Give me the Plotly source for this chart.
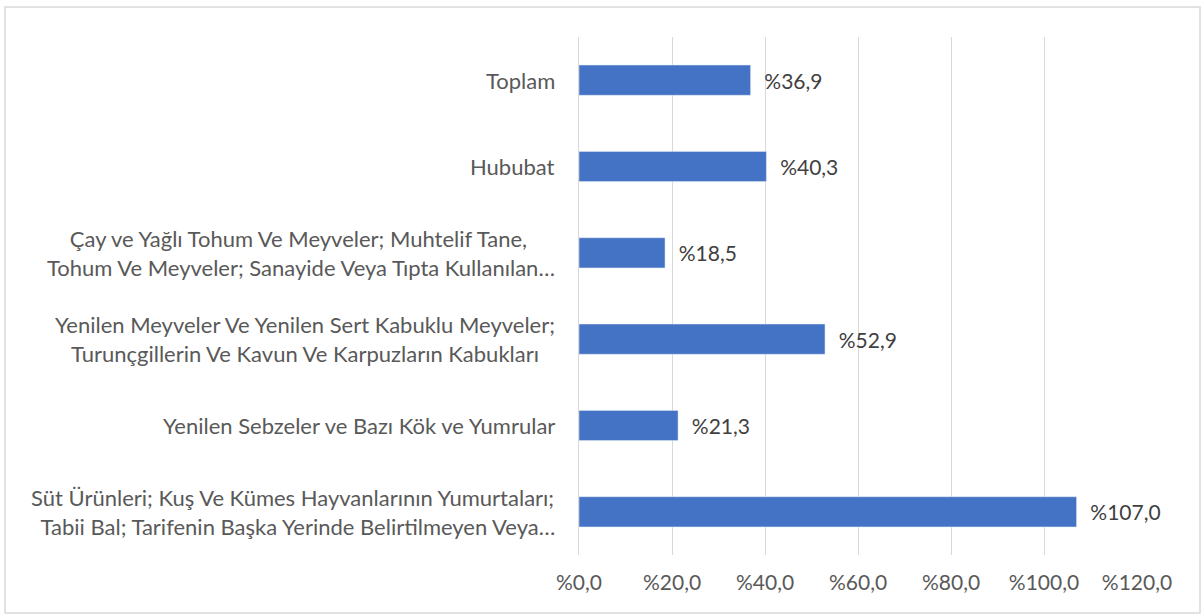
import plotly.graph_objects as go

# categories from top to bottom
categories = [
    "Toplam",
    "Hububat",
    "Çay ve Yağlı Tohum Ve Meyveler; Muhtelif Tane,<br> Tohum Ve Meyveler; Sanayide Veya Tıpta Kullanılan…",
    "Yenilen Meyveler Ve Yenilen Sert Kabuklu Meyveler;<br>Turunçgillerin Ve Kavun Ve Karpuzların Kabukları",
    "Yenilen Sebzeler ve Bazı Kök ve Yumrular",
    "Süt Ürünleri; Kuş Ve Kümes Hayvanlarının Yumurtaları;<br>  Tabii Bal; Tarifenin Başka Yerinde Belirtilmeyen Veya…",
]
values = [36.9, 40.3, 18.5, 52.9, 21.3, 107.0]
tick_vals = [0, 20, 40, 60, 80, 100, 120]
tick_text = ["%" + f"{v:.1f}".replace(".", ",") for v in tick_vals]

FONT = "Lato"
FS = 22
W, H = 1202, 614
ml, mr, mt, mb = 579, 65, 37, 59

fig = go.Figure()
fig.add_trace(go.Bar(
    y=categories, x=values, orientation="h",
    marker=dict(color="#4472c4"),
    texttemplate="\u00a0\u00a0%%{x:.1f}", textposition="outside",
    textfont=dict(family=FONT, size=FS - 1, color="#404040"),
    cliponaxis=False, hoverinfo="skip",
))

# category labels as centered annotations
for c in categories:
    fig.add_annotation(
        x=0, xref="paper", y=c, yref="y", text=c, showarrow=False,
        xanchor="right", xshift=-22, align="center",
        font=dict(family=FONT, size=FS, color="#595959"),
    )

pw = W - ml - mr
ph = H - mt - mb
fig.add_shape(
    type="rect", xref="paper", yref="paper",
    x0=(5 - ml) / pw, x1=(1200 - ml) / pw,
    y0=-(613 - H + mb) / ph, y1=1 + (mt - 7) / ph,
    line=dict(color="#d9d9d9", width=1.5), layer="below",
)

fig.update_layout(
    width=W, height=H,
    margin=dict(l=ml, r=mr, t=mt, b=mb),
    plot_bgcolor="white", paper_bgcolor="white",
    showlegend=False, bargap=0.65,
    separators=",.",
    font=dict(family=FONT, size=FS, color="#595959"),
)
fig.update_xaxes(
    range=[0, 120], tickvals=tick_vals, ticktext=tick_text,
    showgrid=True, gridcolor="#d9d9d9", gridwidth=1,
    zeroline=False, showline=False, ticks="outside", ticklen=9,
    tickcolor="rgba(0,0,0,0)",
    tickfont=dict(family=FONT, size=FS - 1, color="#595959"),
)
fig.update_yaxes(
    autorange="reversed", showticklabels=False, showgrid=False,
    showline=True, linecolor="#d9d9d9", linewidth=1, ticks="",
)

fig.write_html("out.html", config={"displayModeBar": False},
               post_script="document.body.style.margin='0';")
